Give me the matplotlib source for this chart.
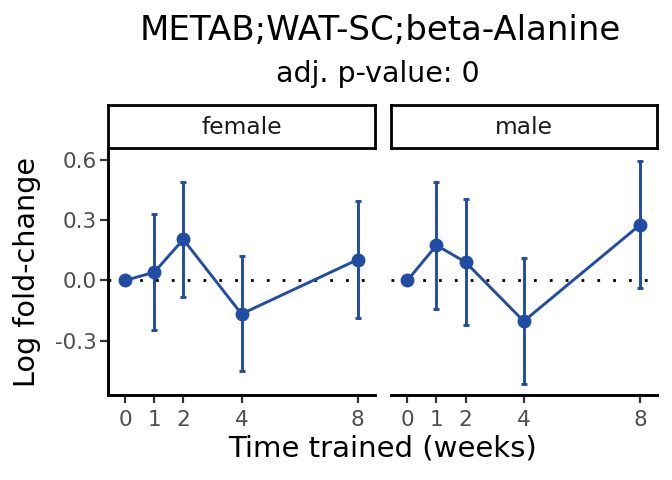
import matplotlib
matplotlib.use("Agg")
import matplotlib.pyplot as plt

# ── Data ─────────────────────────────────────────────────────────────────────
TITLE = "METAB;WAT-SC;beta-Alanine"
SUBTITLE = "adj. p-value: 0"
PANELS = ["female", "male"]
WEEKS = [0, 1, 2, 4, 8]
FEMALE_LFC = [0.0, 0.041, 0.204, -0.167, 0.104]
FEMALE_LO = [0.0, -0.248, -0.083, -0.452, -0.185]
FEMALE_HI = [0.0, 0.330, 0.488, 0.120, 0.395]
MALE_LFC = [0.0, 0.175, 0.091, -0.203, 0.277]
MALE_LO = [0.0, -0.142, -0.223, -0.516, -0.040]
MALE_HI = [0.0, 0.488, 0.406, 0.112, 0.593]
YTICKS = [-0.3, 0.0, 0.3, 0.6]
YTICKLABELS = ["-0.3", "0.0", "0.3", "0.6"]

BLUE = "#214CA3"
GREY = "#4D4D4D"
W, H = 672, 480

SERIES = {
    "female": (FEMALE_LFC, FEMALE_LO, FEMALE_HI),
    "male": (MALE_LFC, MALE_LO, MALE_HI),
}


def px_box(x0, y0, x1, y1):
    """pixel box (top-left origin) -> figure fraction rect"""
    return [x0 / W, 1 - y1 / H, (x1 - x0) / W, (y1 - y0) / H]


fig = plt.figure(figsize=(W / 100, H / 100), dpi=100)

panel_x = {"female": (108.3, 374.7), "male": (390.5, 657.0)}

for i, name in enumerate(PANELS):
    x0, x1 = panel_x[name]
    ax = fig.add_axes(px_box(x0, 149.5, x1, 395.3))
    lfc, lo, hi = SERIES[name]

    ax.axhline(0, color="black", lw=2.0, ls=(0, (1, 4.7)), dash_capstyle="butt", zorder=1)

    # error bars (week 0 is the reference, no interval)
    xs = WEEKS[1:]
    ys = lfc[1:]
    yerr = [[y - l for y, l in zip(ys, lo[1:])], [h - y for y, h in zip(ys, hi[1:])]]
    ax.errorbar(xs, ys, yerr=yerr, fmt="none", ecolor=BLUE, elinewidth=2.1,
                capsize=2.0, capthick=2.1, zorder=2)
    ax.plot(WEEKS, lfc, color=BLUE, lw=2.1, marker="o", ms=9, zorder=3)

    ax.set_xlim(-0.58, 8.58)
    ax.set_ylim(-0.572, 0.652)
    ax.set_xticks(WEEKS)
    ax.set_xticklabels([str(w) for w in WEEKS])
    ax.set_yticks(YTICKS)
    ax.set_yticklabels(YTICKLABELS)
    ax.tick_params(axis="both", colors="#333333", labelcolor=GREY, labelsize=15.5,
                   length=5.5, width=1.6, pad=3)
    ax.tick_params(axis="x", pad=5)

    for s in ["top", "right"]:
        ax.spines[s].set_visible(False)
    ax.spines["bottom"].set_linewidth(2.1)
    ax.spines["left"].set_linewidth(2.1)
    if i > 0:
        ax.spines["left"].set_visible(False)
        ax.tick_params(axis="y", left=False, labelleft=False)
    else:
        ax.set_ylabel("Log fold-change", fontsize=20.6, labelpad=10)

    # facet strip
    sax = fig.add_axes(px_box(x0, 105, x1, 147.5))
    sax.set_xticks([])
    sax.set_yticks([])
    for s in sax.spines.values():
        s.set_linewidth(2.0)
    sax.text(0.5, 0.48, name, ha="center", va="center", fontsize=16.8, color="#1A1A1A",
             transform=sax.transAxes)

fig.text(382 / W, 1 - 448 / H, "Time trained (weeks)", ha="center", va="center", fontsize=21)
fig.text(380 / W, 1 - 30 / H, TITLE, ha="center", va="center", fontsize=24.5)
fig.text(378 / W, 1 - 74 / H, SUBTITLE, ha="center", va="center", fontsize=20.5)

fig.savefig("out.png", dpi=100)
